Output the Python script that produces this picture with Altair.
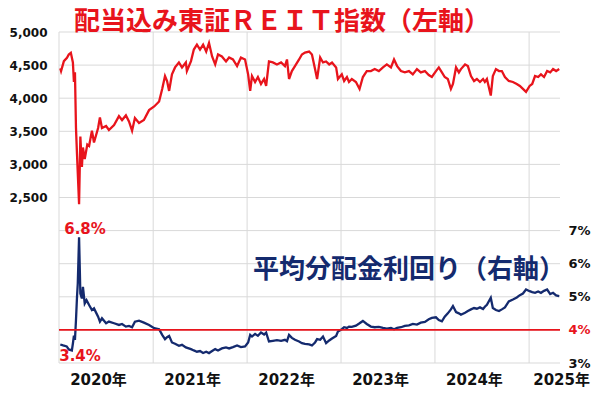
import altair as alt
import pandas as pd

reit_dates = ["2020-01-06","2020-01-09","2020-01-20","2020-02-01","2020-02-08","2020-02-16","2020-02-24","2020-02-28","2020-03-03","2020-03-07","2020-03-11","2020-03-19","2020-03-24","2020-03-30","2020-04-03","2020-04-10","2020-04-20","2020-04-27","2020-05-08","2020-05-16","2020-06-01","2020-06-08","2020-06-16","2020-07-02","2020-07-13","2020-08-02","2020-08-21","2020-09-02","2020-09-17","2020-09-29","2020-10-11","2020-10-22","2020-11-07","2020-11-26","2020-12-16",
"2021-01-05","2021-01-24","2021-02-05","2021-02-16","2021-02-24","2021-03-04","2021-03-15","2021-03-27","2021-04-11","2021-04-23","2021-05-08","2021-05-12","2021-05-28","2021-06-08","2021-06-20","2021-07-02","2021-07-14","2021-07-26","2021-08-06","2021-08-18","2021-08-30","2021-09-10","2021-09-25","2021-10-11","2021-10-23","2021-11-07","2021-11-23","2021-12-08","2021-12-24",
"2022-01-05","2022-01-13","2022-01-20","2022-02-01","2022-02-12","2022-02-24","2022-03-08","2022-03-16","2022-03-27","2022-04-11","2022-04-27","2022-05-13","2022-05-28","2022-06-05","2022-06-13","2022-06-24","2022-07-06","2022-07-22","2022-08-02","2022-08-14","2022-08-30","2022-09-10","2022-09-22","2022-09-30","2022-10-12","2022-10-23","2022-11-04","2022-11-16","2022-11-27","2022-12-13","2022-12-20",
"2023-01-04","2023-01-13","2023-01-24","2023-02-01","2023-02-12","2023-02-28","2023-03-14","2023-03-27","2023-04-11","2023-04-27","2023-05-12","2023-05-28","2023-06-13","2023-06-28","2023-07-14","2023-07-26","2023-08-07","2023-08-22","2023-09-06","2023-09-22","2023-10-07","2023-10-23","2023-11-07","2023-11-23","2023-12-08","2023-12-20",
"2024-01-05","2024-01-16","2024-01-28","2024-02-08","2024-02-20","2024-03-03","2024-03-11","2024-03-23","2024-04-03","2024-04-11","2024-04-27","2024-05-08","2024-05-20","2024-06-01","2024-06-12","2024-06-24","2024-07-06","2024-07-13","2024-07-21","2024-08-05","2024-08-13","2024-08-25","2024-09-06","2024-09-17","2024-09-29","2024-10-14","2024-10-30","2024-11-14","2024-11-26","2024-12-08","2024-12-20",
"2025-01-03","2025-01-13","2025-01-24","2025-02-05","2025-02-16","2025-02-28","2025-03-12","2025-03-24","2025-04-04","2025-04-16","2025-04-28"]
reit_values = [4450,4410,4560,4610,4660,4685,4540,4245,4390,3550,3150,2400,3420,2960,3255,3080,3300,3280,3510,3330,3550,3710,3550,3580,3520,3595,3730,3670,3740,3650,3510,3700,3625,3670,3820,
3875,3950,4140,4335,4260,4110,4360,4465,4540,4465,4540,4410,4560,4735,4810,4735,4810,4705,4835,4630,4510,4660,4630,4555,4615,4585,4485,4615,4585,
4360,4110,4335,4245,4320,4215,4290,4185,4555,4540,4510,4540,4485,4585,4290,4410,4485,4585,4660,4690,4705,4660,4440,4290,4615,4540,4555,4510,4540,4465,4290,
4360,4260,4320,4245,4290,4245,4140,4320,4410,4410,4440,4410,4465,4510,4465,4585,4485,4410,4390,4410,4360,4440,4390,4410,4350,4320,
4410,4465,4390,4320,4290,4140,4215,4465,4390,4440,4510,4485,4335,4260,4290,4245,4290,4245,4290,4040,4335,4440,4410,4410,4320,4260,4245,4215,4185,4140,4095,
4185,4215,4335,4320,4360,4320,4410,4390,4440,4410,4440]

yld_dates = ["2020-01-06","2020-01-17","2020-01-31","2020-02-08","2020-02-20","2020-02-24","2020-02-28","2020-03-03","2020-03-07","2020-03-11","2020-03-14","2020-03-19","2020-03-24","2020-03-30","2020-04-03","2020-04-10","2020-04-17","2020-04-27","2020-05-08","2020-05-16","2020-06-01","2020-06-08","2020-06-16","2020-07-02","2020-07-13","2020-08-02","2020-08-21","2020-09-02","2020-09-17","2020-09-29","2020-10-11","2020-10-22","2020-11-07","2020-11-26","2020-12-16",
"2021-01-05","2021-01-24","2021-02-05","2021-02-16","2021-02-24","2021-03-04","2021-03-15","2021-03-27","2021-04-11","2021-04-23","2021-05-08","2021-05-28","2021-06-08","2021-06-20","2021-07-02","2021-07-14","2021-07-26","2021-08-06","2021-08-18","2021-08-30","2021-09-10","2021-09-25","2021-10-11","2021-10-23","2021-11-07","2021-11-23","2021-12-08","2021-12-24",
"2022-01-05","2022-01-13","2022-01-20","2022-02-01","2022-02-12","2022-02-24","2022-03-08","2022-03-16","2022-03-27","2022-04-11","2022-04-27","2022-05-13","2022-05-28","2022-06-05","2022-06-13","2022-06-24","2022-07-06","2022-07-22","2022-08-02","2022-08-14","2022-08-30","2022-09-10","2022-09-22","2022-09-30","2022-10-12","2022-10-23","2022-11-04","2022-11-16","2022-11-27","2022-12-13","2022-12-20",
"2023-01-04","2023-01-13","2023-01-24","2023-02-01","2023-02-12","2023-02-28","2023-03-14","2023-03-27","2023-04-11","2023-04-27","2023-05-12","2023-05-28","2023-06-13","2023-06-28","2023-07-14","2023-07-26","2023-08-07","2023-08-22","2023-09-06","2023-09-22","2023-10-07","2023-10-23","2023-11-07","2023-11-23","2023-12-08","2023-12-20",
"2024-01-05","2024-01-16","2024-01-28","2024-02-08","2024-02-20","2024-03-03","2024-03-11","2024-03-23","2024-04-03","2024-04-11","2024-04-27","2024-05-08","2024-05-20","2024-06-01","2024-06-12","2024-06-24","2024-07-06","2024-07-13","2024-07-21","2024-08-05","2024-08-13","2024-08-25","2024-09-06","2024-09-17","2024-09-29","2024-10-14","2024-10-30","2024-11-14","2024-11-26","2024-12-08","2024-12-20",
"2025-01-03","2025-01-13","2025-01-24","2025-02-05","2025-02-16","2025-02-28","2025-03-12","2025-03-24","2025-04-04","2025-04-16","2025-04-28"]
yld_values = [3.56,3.53,3.50,3.41,3.38,3.59,3.83,3.70,4.30,5.00,5.40,6.80,5.10,4.95,5.30,4.80,4.90,4.75,4.60,4.65,4.40,4.25,4.35,4.20,4.25,4.20,4.15,4.18,4.10,4.12,4.08,4.25,4.28,4.22,4.15,
4.05,4.02,3.85,3.72,3.78,3.82,3.62,3.58,3.52,3.55,3.47,3.42,3.38,3.34,3.36,3.30,3.34,3.30,3.36,3.42,3.38,3.44,3.47,3.44,3.48,3.53,3.48,3.50,
3.62,3.85,3.80,3.88,3.82,3.92,3.86,3.92,3.65,3.67,3.69,3.67,3.70,3.66,3.85,3.76,3.70,3.65,3.60,3.58,3.56,3.53,3.62,3.72,3.70,3.80,3.60,3.68,3.74,3.82,3.95,
4.02,4.08,4.06,4.10,4.09,4.13,4.20,4.27,4.18,4.10,4.08,4.09,4.06,4.04,4.06,4.02,4.06,4.08,4.12,4.14,4.18,4.16,4.22,4.24,4.32,4.36,
4.38,4.30,4.26,4.40,4.50,4.62,4.72,4.54,4.50,4.46,4.52,4.57,4.62,4.66,4.64,4.68,4.63,4.70,4.76,4.97,4.66,4.60,4.57,4.62,4.68,4.86,4.92,4.98,5.05,5.10,5.22,
5.17,5.14,5.12,5.16,5.12,5.18,5.22,5.08,5.12,5.04,5.02]

left_ticks = [0, 500, 1000, 1500, 2000, 2500, 3000, 3500, 4000, 4500, 5000]
right_ticks = [3, 4, 5, 6, 7]
year_starts = ["2020-01-01", "2021-01-01", "2022-01-01", "2023-01-01", "2024-01-01", "2025-01-01"]

RED = "#e8141c"
NAVY = "#142a6e"
GRID = "#d9d9d9"
NUMFONT = "'DejaVu Sans', 'Noto Sans CJK JP'"
JPFONT = "'Noto Sans CJK JP'"

reit_df = pd.DataFrame({"date": reit_dates, "value": reit_values})
yld_df = pd.DataFrame({"date": yld_dates, "value": yld_values})

xscale = alt.Scale(type="utc", domain=[alt.DateTime(year=2020, month=1, date=1, utc=True),
                                       alt.DateTime(year=2025, month=5, date=1, utc=True)])
xaxis = alt.Axis(values=[alt.DateTime(year=int(d[:4]), month=1, date=1, utc=True) for d in year_starts],
                 labelExpr="utcFormat(datum.value, '%Y') + '年'",
                 title=None, grid=False, ticks=False, domain=False,
                 labelFont=NUMFONT, labelFontWeight="bold", labelFontSize=15, labelColor="#111",
                 labelOffset={"condition": {"test": "utcyear(datum.value) == 2025", "value": 32}, "value": 39},
                 labelPadding=9, labelAlign="center", labelFlush=False,
                 labelOverlap=False)
reit_scale = alt.Scale(domain=[0, 5000], nice=False, zero=False)
yscale = alt.Scale(domain=[3, 13], nice=False, zero=False)

vgrid = alt.Chart(pd.DataFrame({"d": year_starts})).mark_rule(color=GRID, strokeWidth=1).encode(
    x=alt.X("d:T", scale=xscale, axis=xaxis)
)
hgrid = alt.Chart(pd.DataFrame({"v": left_ticks})).mark_rule(color=GRID, strokeWidth=1).encode(
    y=alt.Y("v:Q", scale=reit_scale, axis=None)
)

reit = alt.Chart(reit_df).mark_line(color=RED, strokeWidth=2.3).encode(
    x=alt.X("date:T", scale=xscale),
    y=alt.Y("value:Q", scale=reit_scale,
            axis=alt.Axis(values=left_ticks, orient="left", title=None, grid=False,
                          ticks=False, domain=False,
                          labelExpr="datum.value >= 2500 ? format(datum.value, ',') : ''",
                          labelFont=NUMFONT, labelFontWeight="bold", labelFontSize=12,
                          labelColor="#111", labelPadding=12)),
)

yld = alt.Chart(yld_df).mark_line(color=NAVY, strokeWidth=2.3).encode(
    x=alt.X("date:T", scale=xscale),
    y=alt.Y("value:Q", scale=yscale,
            axis=alt.Axis(values=right_ticks, orient="right", title=None, grid=False,
                          ticks=False, domain=False,
                          labelExpr="datum.value + '%'",
                          labelColor={"condition": {"test": "datum.value == 4", "value": RED}, "value": "#111"},
                          labelFont=NUMFONT, labelFontWeight="bold", labelFontSize=13,
                          labelPadding=8)),
)

rule = alt.Chart(pd.DataFrame({"v": [4]})).mark_rule(color=RED, strokeWidth=1.6).encode(
    y=alt.Y("v:Q", scale=yscale, axis=None)
)

def label(text, x, y, size, color, font, align="center"):
    return alt.Chart(pd.DataFrame({"t": [text]})).mark_text(
        font=font, fontSize=size, fontWeight="bold", color=color, align=align, baseline="middle"
    ).encode(text="t:N", x=alt.value(x), y=alt.value(y))

title = label("配当込み東証ＲＥＩＴ指数（左軸）", 223, -10, 26, RED, JPFONT)
sub = label("平均分配金利回り（右軸）", 350, 238, 26, NAVY, JPFONT)
hi = label("6.8%", 26, 197, 15, RED, NUMFONT)
lo = label("3.4%", 21, 324, 15, RED, NUMFONT)

chart = alt.layer(vgrid, hgrid, reit, yld, rule, title, sub, hi, lo).resolve_scale(y="independent").properties(
    width=501, height=331,
    autosize=alt.AutoSizeParams(type="none"),
    padding={"left": 51, "top": 24, "right": 32, "bottom": 28},
).configure_view(stroke=None)

chart.save("out.html", embed_options={"renderer": "svg", "actions": False})
